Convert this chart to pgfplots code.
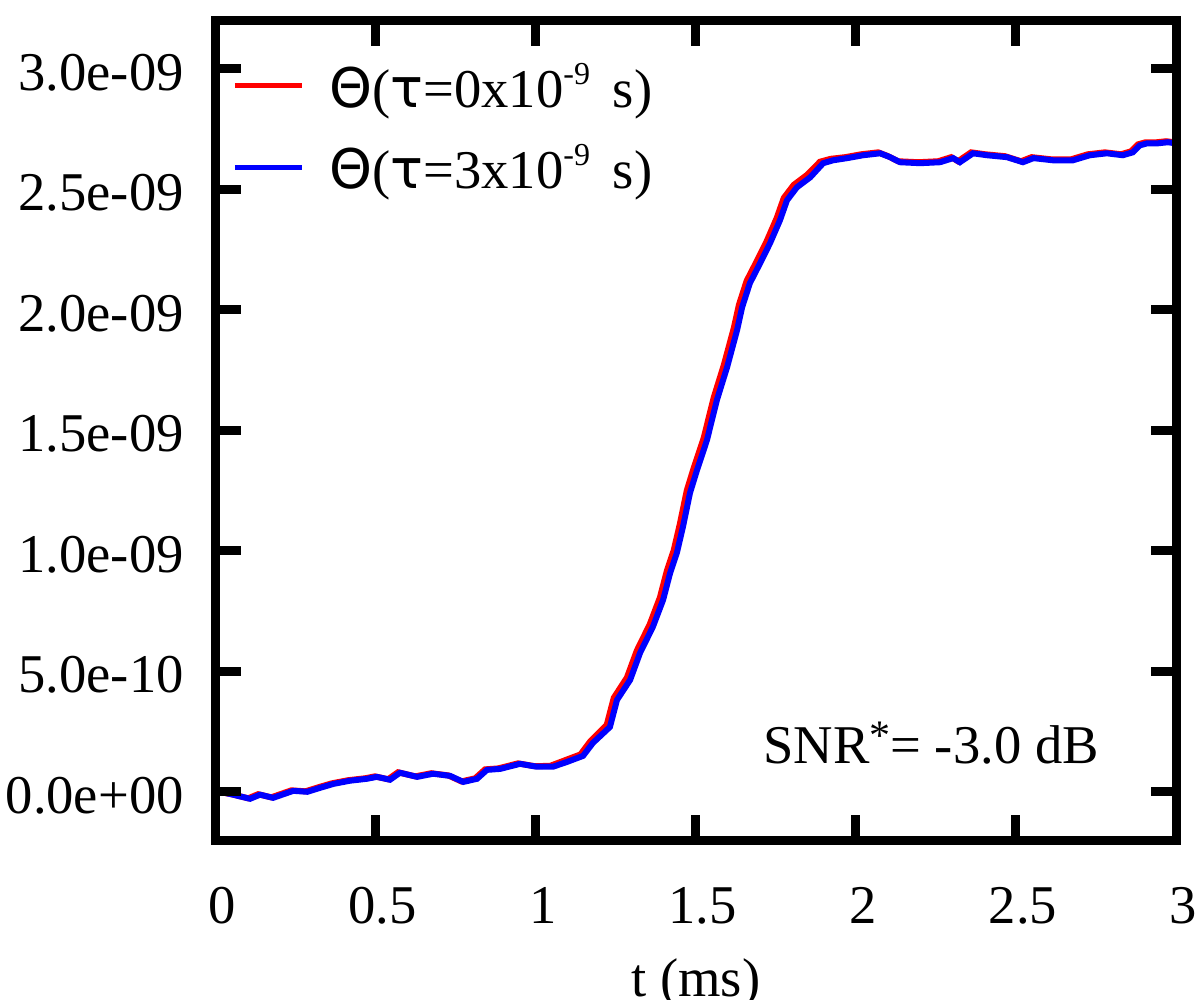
\documentclass[border=0pt]{standalone}
\usepackage{fontspec}
\setmainfont{Liberation Serif}
\newfontfamily\symf{DejaVu Sans}
\usepackage{pgfplots}
\pgfplotsset{compat=1.18}
\usepackage{pgfplotstable}
\pgfplotstableread{
x y
0.000 0.000
0.014 0.000
0.055 -0.012
0.108 -0.029
0.139 -0.012
0.180 -0.025
0.243 0.004
0.287 0.000
0.328 0.017
0.369 0.033
0.420 0.046
0.473 0.054
0.504 0.062
0.545 0.050
0.576 0.079
0.630 0.062
0.680 0.075
0.733 0.066
0.774 0.041
0.817 0.054
0.848 0.091
0.889 0.095
0.951 0.116
1.004 0.104
1.054 0.104
1.098 0.124
1.148 0.149
1.179 0.203
1.232 0.269
1.254 0.381
1.295 0.464
1.326 0.576
1.366 0.684
1.398 0.796
1.420 0.908
1.441 0.991
1.460 1.099
1.482 1.240
1.504 1.335
1.535 1.459
1.566 1.625
1.598 1.762
1.629 1.915
1.645 2.011
1.669 2.110
1.701 2.193
1.732 2.276
1.763 2.371
1.785 2.454
1.816 2.508
1.858 2.550
1.898 2.608
1.929 2.620
1.973 2.629
2.023 2.641
2.076 2.649
2.107 2.633
2.138 2.612
2.201 2.608
2.263 2.612
2.304 2.629
2.325 2.612
2.366 2.649
2.410 2.641
2.472 2.633
2.522 2.612
2.555 2.629
2.616 2.620
2.678 2.620
2.731 2.641
2.784 2.649
2.834 2.641
2.865 2.653
2.887 2.682
2.909 2.690
2.940 2.690
2.975 2.695
3.000 2.690
}\bluedata
\pgfplotstableread{
x y
0.000 0.000
0.010 0.000
0.050 -0.010
0.102 -0.027
0.133 -0.010
0.174 -0.023
0.237 0.006
0.281 0.002
0.322 0.019
0.363 0.035
0.414 0.048
0.467 0.056
0.498 0.064
0.539 0.052
0.570 0.081
0.624 0.064
0.674 0.077
0.727 0.068
0.768 0.043
0.811 0.056
0.842 0.093
0.883 0.097
0.945 0.118
0.998 0.106
1.046 0.108
1.090 0.130
1.140 0.155
1.171 0.210
1.222 0.278
1.244 0.390
1.285 0.474
1.316 0.586
1.356 0.694
1.388 0.806
1.410 0.918
1.431 1.001
1.450 1.109
1.472 1.250
1.494 1.345
1.525 1.469
1.556 1.635
1.588 1.772
1.619 1.925
1.635 2.021
1.659 2.120
1.691 2.203
1.722 2.286
1.753 2.381
1.775 2.464
1.806 2.518
1.848 2.560
1.888 2.614
1.921 2.626
1.967 2.633
2.017 2.645
2.070 2.653
2.101 2.637
2.132 2.616
2.195 2.612
2.257 2.616
2.298 2.633
2.319 2.616
2.360 2.653
2.404 2.645
2.466 2.637
2.516 2.616
2.549 2.633
2.610 2.624
2.672 2.624
2.725 2.645
2.778 2.653
2.828 2.645
2.859 2.657
2.881 2.686
2.903 2.694
2.934 2.694
2.969 2.699
3.000 2.694
}\reddata
\begin{document}
\fontsize{27.3bp}{32bp}\selectfont
\begin{tikzpicture}
\begin{axis}[
  scale only axis,
  width=480.25bp, height=409.75bp,
  xmin=0, xmax=3, ymin=-0.2, ymax=3.2,
  xtick={0,0.5,1,1.5,2,2.5,3},
  xticklabels={0,0.5,1,1.5,2,2.5,3},
  ytick={0,0.5,1,1.5,2,2.5,3},
  yticklabels={0.0e+00,5.0e-10,1.0e-09,1.5e-09,2.0e-09,2.5e-09,3.0e-09},
  minor tick num=0,
  tick align=inside,
  major tick length=12.5bp,
  tick style={black, line width=4.5bp},
  axis line style={black, line width=4.5bp, line join=miter},
  axis on top=true,
  xticklabel style={anchor=base, inner sep=0pt, yshift=-41.65bp, xshift=3.5bp},
  yticklabel style={anchor=base east, inner sep=0pt, xshift=-15.75bp, yshift=-10.75bp},
  xlabel={t (ms)},
  xlabel style={at={(axis description cs:0.5,0)}, anchor=base, inner sep=0pt, yshift=-78bp},
  legend style={draw=none, fill=none, at={(0,1)}, anchor=north west,
    xshift=8.25bp, yshift=-23.1bp, inner sep=0pt, row sep=0pt, column sep=12.5bp,
    nodes={inner sep=0pt, text height=20bp, text depth=20.8bp, anchor=base west},
    cells={anchor=base west}},
  legend image code/.code={\draw[#1, line width=2.5bp] (0bp,10.8bp) -- (33.5bp,10.8bp);},
]
\addplot[red, line width=3bp] table[x=x, y=y] {\reddata};
\addlegendentry{{\symf Θ}({\symf τ}=0x10\raisebox{11.5bp}{\fontsize{16bp}{18bp}\selectfont -9}\, s)}
\addplot[blue, line width=3bp] table[x=x, y=y] {\bluedata};
\addlegendentry{{\symf Θ}({\symf τ}=3x10\raisebox{11.5bp}{\fontsize{16bp}{18bp}\selectfont -9}\, s)}
\node[anchor=base west, inner sep=0pt] at (axis cs:1.710,0.119) {SNR\raisebox{7bp}{\fontsize{21bp}{24bp}\selectfont *}= -3.0 dB};
\end{axis}
\pgfresetboundingbox
\path[use as bounding box] (-107.75bp,-80bp) rectangle (492.25bp,420bp);
\end{tikzpicture}
\end{document}
